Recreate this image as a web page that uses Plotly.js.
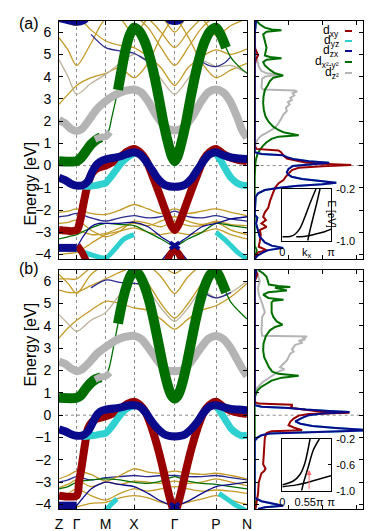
<!DOCTYPE html>
<html><head><meta charset="utf-8">
<script src="https://cdn.plot.ly/plotly-3.0.1.min.js"></script>
<style>body{margin:0;background:#fff}#chart{width:374px;height:531px}</style>
</head><body><div id="chart"></div>
<script>
// ---------- high-symmetry path ----------
const kTicks = [0, 17.7, 46.7, 75, 115.7, 157, 188];
const kLabels = ['Z','Γ','M','X','Γ','P','N'];
const kThin = [0, 9, 17.7, 32, 46.7, 61, 75, 89, 102, 115.7, 129, 143, 157, 172, 188];

// ---------- fat-band k grids ----------
const kGreen = [0,17.7,22,27,32,37,42,46.7,50,53,56,59,63,67,71,75,80,85,90,95,100,105,110,113,115.7,118.4,121.4,126.4,131.4,136.4,141.4,146.4,151.4,157,162,167,172,180,188];
const kRedA = [0,17.7,21,25,29,33,38,46.7,55,62,68,75,81,87,93,99,105,110,113,115.7,118.4,121.4,126.4,132.4,138.4,144.4,150.4,157,165,172,180,188];
const kRedB = [0,17.7,20,23,26,29,33,38,46.7,55,62,68,75,81,87,93,99,104,108,112,115.7,119.4,123.4,127.4,132.4,138.4,144.4,150.4,157,165,172,180,188];
const kBlue = [0,6,12,17.7,24,29,33,37,41,46.7,55,62,68,75,81,87,93,99,105,110,115.7,121.4,126.4,132.4,138.4,144.4,150.4,157,165,172,180,188];
const kGray = [0,6,12,17.7,23,30,38,46.7,55,62,68,75,82,89,96,103,109,115.7,122.4,128.4,135.4,142.4,149.4,157,164,171,178,183,188];
const kCyan1 = [24,30,36,41,46.7,52,57,62,68,75];
const kCyan2 = [157,162,167,172,178,183,188];
const kGrayM = [36,41,46.7,51];
const kBlueLow = [0,17.7];
const kBlueThin1 = [17.7,24,32,40,46.7,60,75,89,102,115.7,129];
const kBlueThin2 = [102,115.7,129,143,157,172,188];
const kBlueX = [111,115.7,120.4];

// ---------- panel (a) bands [eV] ----------
const aGreen = [0.2,0.2,0.35,0.65,0.95,1.15,1.27,1.3,1.6,2.2,2.8,3.4,4.4,5.3,5.9,6.2,6.05,5.65,5.0,4.1,3.0,1.8,0.85,0.4,0.2,0.4,0.85,1.8,3.0,4.1,5.0,5.65,6.05,6.2,5.85,5.3,4.85,4.45,4.15];
const aRed = [-2.9,-2.9,-2.5,-1.6,-0.8,-0.35,-0.12,0,0.2,0.4,0.62,0.75,0.6,0.25,-0.4,-1.1,-1.85,-2.45,-2.75,-2.9,-2.75,-2.45,-1.85,-1.1,-0.4,0.25,0.6,0.75,0.5,0.35,0.25,0.2];
const aBlue = [-0.55,-0.65,-0.82,-0.9,-0.88,-0.7,-0.3,0.0,0.17,0.28,0.35,0.42,0.52,0.6,0.5,0.2,-0.2,-0.6,-0.85,-0.93,-0.95,-0.93,-0.85,-0.6,-0.2,0.2,0.5,0.6,0.45,0.37,0.32,0.3];
const aCyan1 = [-0.92,-0.93,-0.9,-0.85,-0.78,-0.5,-0.2,0.1,0.35,0.55];
const aCyan2 = [0.55,0.2,-0.2,-0.55,-0.78,-0.88,-0.9];
const aGray = [2.05,1.9,1.65,1.55,1.65,2.05,2.55,2.9,3.15,3.3,3.38,3.42,3.3,2.9,2.35,1.9,1.65,1.58,1.65,1.9,2.35,2.9,3.3,3.42,3.3,2.9,2.2,1.6,1.25];
const aGrayM = [1.18,1.27,1.3,1.5];
const aBlueLow = [-3.7,-3.7];
const aBlueThin1 = [-3.7,-3.2,-2.75,-2.6,-2.6,-2.6,-2.55,-2.75,-3.2,-3.6,-4.3];
const aBlueThin2 = [-4.3,-3.6,-3.2,-2.75,-2.6,-2.4,-2.3];
const aBlueX1 = [-3.45,-3.6,-3.75];
const aBlueX2 = [-3.75,-3.6,-3.45];
const aRedLow1K = [18.5,23,27.5], aRedLow1 = [-3.6,-3.9,-4.3];
const aRedLow2K = [108,112,115.7,119.4,123.4], aRedLow2 = [-4.3,-3.95,-3.8,-3.95,-4.3];
const aCyanLow1K = [17.7,25,35,46.7,55,65,75], aCyanLow1 = [-3.75,-3.9,-4.05,-4.15,-3.8,-3.3,-3.1];
const aCyanLow2K = [157,165,172,180,188], aCyanLow2 = [-3.0,-3.3,-3.6,-3.95,-4.2];
const aTopK1 = [0,9,17.7,25,30], aTop1 = [6.6,6.5,6.42,6.5,6.7];
const aTopK2 = [106,111,115.7,120.4,125.4], aTop2 = [6.7,6.5,6.45,6.5,6.7];
const aNavyK1 = [32,46.7,61,75,87,97], aNavy1 = [5.9,5.3,5.15,5.05,4.75,4.7];
const aNavyK2 = [140,150,157,165,172], aNavy2 = [4.75,4.5,4.45,4.6,4.9];
// thin bands on kThin
const aU1 = [5.75,5.2,4.5,5.5,6.6,6.6,5.9,6.6,6.7,6.0,6.7,6.6,5.85,6.3,6.6];
const aU2 = [4.75,4.0,3.2,3.7,4.1,4.6,5.0,4.7,3.9,3.2,3.9,4.7,4.45,4.5,4.15];
const aU3 = [6.7,6.7,6.7,6.1,5.6,5.4,5.3,4.9,4.4,3.6,4.4,4.9,5.2,5.0,5.25];
const aU4 = [2.75,3.2,3.6,3.95,4.15,4.4,3.95,4.6,5.8,6.6,5.8,4.6,3.95,4.3,4.6];
const aU5 = [6.6,6.4,6.3,6.6,6.7,6.7,6.7,6.2,5.3,4.5,5.3,6.2,6.7,6.7,6.7];
const aU6 = [6.7,6.7,6.7,6.7,6.7,6.7,6.7,6.6,6.0,5.3,6.0,6.6,6.7,6.7,6.7];
const aL1 = [-2.1,-2.05,-1.95,-2.15,-2.2,-2.0,-1.75,-1.95,-2.15,-1.95,-2.15,-2.05,-1.95,-2.1,-2.25];
const aL2 = [-2.3,-2.25,-2.15,-2.35,-2.5,-2.35,-2.25,-2.35,-2.3,-2.05,-2.3,-2.35,-2.25,-2.4,-2.5];
const aL3 = [-2.6,-2.55,-2.45,-2.9,-3.2,-2.95,-2.5,-2.6,-2.75,-2.5,-2.7,-2.7,-2.5,-2.65,-2.7];
const aL4 = [-3.0,-2.95,-2.9,-3.1,-3.05,-2.8,-2.6,-2.7,-2.5,-2.3,-2.5,-2.65,-2.55,-2.9,-3.1];
const aL5 = [-4.0,-3.95,-3.9,-3.5,-3.1,-2.95,-2.8,-3.0,-3.1,-3.0,-3.1,-3.0,-2.85,-3.1,-3.3];
const aGreenLow = [-3.3,-3.2,-3.1,-2.8,-2.6,-2.65,-2.7,-3.0,-3.3,-3.6,-3.3,-3.0,-2.6,-2.7,-2.8];

// ---------- panel (b) bands [eV] ----------
const bGreen = [0.78,0.78,0.9,1.2,1.45,1.62,1.7,1.75,2.1,2.7,3.4,4.1,5.0,5.7,6.2,6.45,6.3,5.85,5.15,4.2,3.1,2.0,1.15,0.85,0.75,0.85,1.15,2.0,3.1,4.2,5.15,5.85,6.3,6.45,6.05,5.5,5.05,4.65,4.3];
const bRed = [-3.6,-3.6,-3.0,-2.2,-1.3,-0.6,-0.3,-0.15,-0.05,0.1,0.3,0.5,0.6,0.45,0.1,-0.6,-1.5,-2.4,-3.2,-3.9,-4.35,-3.9,-3.2,-2.4,-1.5,-0.6,0.1,0.45,0.6,0.35,0.2,0.1,0.05];
const bBlue = [-0.63,-0.72,-0.85,-0.92,-0.9,-0.72,-0.4,-0.05,0.15,0.25,0.3,0.35,0.42,0.45,0.38,0.1,-0.3,-0.62,-0.85,-0.93,-0.95,-0.93,-0.85,-0.62,-0.3,0.1,0.38,0.45,0.35,0.28,0.25,0.22];
const bCyan1 = [-0.95,-0.93,-0.9,-0.85,-0.8,-0.55,-0.25,0.05,0.3,0.42];
const bCyan2 = [0.42,0.1,-0.25,-0.6,-0.82,-0.92,-0.9];
const bGray = [2.4,2.3,2.1,1.97,2.05,2.35,2.75,3.05,3.3,3.45,3.52,3.55,3.42,3.05,2.6,2.2,2.0,1.97,2.0,2.2,2.6,3.05,3.42,3.55,3.42,3.05,2.5,2.1,1.75];
const bGrayM = [1.6,1.7,1.75,1.9];
const bBlueLow = [-4.05,-4.05];
const bBlueThin1 = [-4.05,-3.7,-3.3,-3.1,-3.0,-3.1,-3.2,-3.5,-3.85,-4.1,-4.4];
const bBlueThin2 = [-4.4,-4.1,-3.85,-3.5,-3.2,-3.1,-3.0];
const bBlueX1 = [-3.95,-4.1,-4.25];
const bBlueX2 = [-4.25,-4.1,-3.95];
const bCyanLow1K = [40,46.7,52,58], bCyanLow1 = [-4.4,-4.25,-4.0,-3.75];
const bCyanLow2K = [160,168,176,188], bCyanLow2 = [-3.5,-3.75,-4.0,-4.3];
const bNavyK1 = [32,46.7,61,75,89], bNavy1 = [5.7,6.05,5.95,5.9,5.85];
const bNavyK2 = [143,150,157,165,172], bNavy2 = [5.6,5.35,5.25,5.35,5.5];
const bU1 = [6.1,6.1,6.1,6.6,6.7,6.7,6.7,6.7,6.7,6.35,6.7,6.7,6.7,6.7,6.7];
const bU2 = [6.3,5.9,5.45,6.3,6.7,6.7,6.7,6.7,6.2,5.45,6.2,6.7,6.7,6.7,6.7];
const bU3 = [4.5,4.1,3.75,4.25,4.6,5.4,5.9,5.6,4.8,4.2,4.8,5.6,5.25,5.5,6.0];
const bU5 = [3.45,3.9,4.25,4.7,5.1,5.0,4.8,4.7,4.3,3.85,4.3,4.7,4.9,5.3,5.9];
const bU6 = [5.6,5.5,5.5,5.8,6.1,6.4,6.6,5.9,5.0,4.35,5.0,5.9,6.6,6.6,6.6];
const bL1 = [-2.85,-2.7,-2.5,-2.65,-2.95,-2.7,-2.4,-2.55,-2.6,-2.5,-2.6,-2.65,-2.6,-2.7,-2.85];
const bL2 = [-3.0,-2.9,-2.75,-2.9,-2.8,-2.75,-2.7,-2.75,-2.7,-2.7,-2.75,-2.75,-2.7,-2.8,-2.9];
const bL3 = [-3.25,-3.1,-2.9,-3.2,-3.0,-3.1,-2.95,-3.0,-3.05,-2.95,-3.05,-3.0,-2.85,-3.0,-3.15];
const bL4 = [-3.6,-3.5,-3.3,-3.6,-3.8,-3.5,-3.3,-3.4,-3.3,-3.2,-3.3,-3.4,-3.35,-3.4,-3.5];
const bL5 = [-4.3,-4.2,-4.1,-3.95,-3.9,-3.7,-3.6,-3.7,-3.9,-4.0,-3.9,-3.75,-3.6,-3.8,-4.0];
const bGreenLow = [-3.3,-3.2,-3.0,-2.9,-2.85,-2.9,-3.0,-3.05,-2.95,-2.75,-2.95,-3.05,-3.1,-3.2,-3.3];

// ---------- DOS (a) ----------
const aDosGreenE = [6.5,6.35,6.2,6.12,6.08,6.02,5.9,5.7,5.5,5.3,5.1,4.95,4.88,4.83,4.76,4.65,4.5,4.3,4.15,4.05,3.95,3.8,3.6,3.4,3.1,2.8,2.5,2.2,1.95,1.75,1.6,1.5,1.42,1.36,1.3,1.2,1.05,0.9,0.7,0.5,0.3,0.1,-0.5,-3.6,-3.8,-4.0,-4.2];
const aDosGreen = [0.06,0.15,0.3,0.5,0.79,0.35,0.25,0.28,0.3,0.35,0.32,0.3,0.45,0.79,0.35,0.25,0.3,0.45,0.6,0.84,0.55,0.45,0.38,0.3,0.26,0.25,0.27,0.32,0.42,0.55,0.7,0.85,1.1,1.3,0.7,0.5,0.35,0.25,0.15,0.08,0.04,0.02,0,0,0.06,0.02,0];
const aDosGrayE = [6.5,5.5,5.0,4.7,4.45,4.25,4.15,4.08,4.0,3.9,3.7,3.5,3.42,3.38,3.33,3.25,3.15,3.05,2.95,2.85,2.75,2.6,2.45,2.3,2.15,2.0,1.85,1.7,1.55,1.45,1.35,1.2,1.0,0.8];
const aDosGray = [0,0,0.04,0.08,0.12,0.2,0.35,0.7,0.3,0.22,0.2,0.2,0.25,1.18,1.25,1.12,1.17,1.05,1.1,0.98,1.03,0.92,0.95,0.85,0.8,0.75,0.68,0.6,0.45,0.32,0.2,0.1,0.03,0];
const aDosRedE = [6.5,5.3,5.1,4.95,4.8,4.5,0.9,0.75,0.68,0.6,0.45,0.32,0.22,0.14,0.08,0.03,-0.03,-0.1,-0.2,-0.35,-0.5,-0.65,-0.8,-1.0,-1.3,-1.6,-1.9,-2.1,-2.3,-2.45,-2.6,-2.75,-2.9,-3.1,-3.4,-3.65,-3.8,-3.9,-4.05,-4.2];
const aDosRed = [0,0,0.06,0.1,0.04,0,0,0.05,0.7,0.78,0.85,0.95,1.25,1.5,2.0,2.85,2.0,1.3,1.1,1.0,0.92,0.85,0.7,0.6,0.52,0.45,0.4,0.3,0.25,0.33,0.2,0.35,0.15,0.18,0.15,0.12,0.35,0.1,0.04,0];
const aDosBlueE = [6.5,6.2,5.9,0.6,0.52,0.46,0.38,0.28,0.2,0.13,0.06,-0.02,-0.15,-0.3,-0.4,-0.5,-0.6,-0.69,-0.77,-0.84,-0.92,-1.0,-1.1,-1.25,-1.4,-2.2,-2.35,-2.6,-2.9,-3.2,-3.45,-3.6,-3.7,-3.8,-3.9,-4.05,-4.2];
const aDosBlue = [0.04,0.02,0,0,0.2,0.84,0.95,1.18,1.6,2.2,1.6,1.13,1.0,0.95,0.99,1.09,1.4,1.92,2.41,2.0,1.2,0.74,0.3,0.1,0.03,0,0.08,0.04,0.1,0.15,0.3,0.5,0.84,0.4,0.25,0.08,0];

// ---------- DOS (b) ----------
const bDosGreenE = [6.5,6.35,6.2,6.0,5.85,5.78,5.74,5.7,5.64,5.58,5.5,5.4,5.25,5.17,5.12,5.05,4.8,4.6,4.4,4.2,4.05,3.95,3.8,3.55,3.2,2.9,2.6,2.35,2.15,1.95,1.85,1.76,1.68,1.55,1.4,1.25,1.1,0.95,0.8,0.5,-3.8,-4.0,-4.2];
const bDosGreen = [0.1,0.25,0.35,0.38,0.42,0.7,1.05,0.6,0.75,0.95,0.4,0.25,0.4,0.85,0.55,0.5,0.5,0.5,0.55,0.65,0.82,0.6,0.45,0.33,0.26,0.25,0.28,0.35,0.42,0.52,0.7,1.3,0.8,0.5,0.32,0.18,0.08,0.03,0,0,0,0.05,0];
const bDosGrayE = [6.5,6.25,6.0,5.7,5.4,5.1,4.8,4.6,4.4,4.1,3.8,3.56,3.52,3.47,3.4,3.33,3.25,3.15,3.05,2.95,2.85,2.75,2.6,2.45,2.3,2.15,2.05,1.95,1.8,1.65,1.5,1.35,1.2,1.0];
const bDosGray = [0.05,0.1,0.15,0.1,0.12,0.2,0.25,0.3,0.22,0.2,0.2,0.22,1.55,1.4,1.5,1.3,1.42,1.2,1.15,1.1,1.15,1.05,1.0,0.95,0.85,0.75,0.88,0.7,0.55,0.4,0.25,0.15,0.06,0];
const bDosRedE = [6.5,6.3,6.15,6.0,0.6,0.52,0.47,0.4,0.33,0.25,0.17,0.11,0.05,-0.02,-0.15,-0.3,-0.45,-0.55,-0.62,-0.67,-0.72,-0.8,-1.0,-1.4,-1.8,-2.2,-2.4,-2.5,-2.6,-3.0,-3.5,-4.0,-4.2];
const bDosRed = [0.02,0.08,0.04,0,0,0.1,1.1,1.1,1.05,1.4,1.9,2.8,1.6,1.3,1.15,1.05,1.0,1.15,1.3,1.4,0.5,0.35,0.3,0.28,0.25,0.25,0.32,0.28,0.2,0.12,0.1,0.05,0.02];
const bDosBlueE = [6.5,6.2,6.0,0.45,0.38,0.32,0.25,0.19,0.14,0.08,0.0,-0.12,-0.28,-0.38,-0.48,-0.57,-0.63,-0.67,-0.71,-0.76,-0.82,-0.9,-1.0,-1.15,-3.7,-3.85,-3.95,-4.05,-4.12,-4.2];
const bDosBlue = [0.04,0.02,0,0,0.2,1.0,1.5,2.2,2.8,2.0,1.6,1.4,1.2,1.35,1.7,2.4,3.0,3.4,2.8,1.6,0.45,0.2,0.08,0,0,0.2,0.5,0.84,0.3,0.1];

// ---------- insets ----------
const iaC1K = [0,0.5,0.82,1.14,1.46,1.79,2.17], iaC1E = [-0.94,-0.935,-0.9,-0.81,-0.63,-0.42,-0.2];
const iaC2K = [1.64,1.79,2.0,2.22,2.43], iaC2E = [-1.0,-0.835,-0.63,-0.42,-0.2];
const iaC3K = [0.9,1.5,2.1,2.6,Math.PI], iaC3E = [-0.94,-0.93,-0.9,-0.87,-0.82];
const ibC1K = [0,0.71,1.14,1.46,1.79], ibC1E = [-0.91,-0.85,-0.75,-0.57,-0.2];
const ibC2K = [1.25,1.36,1.68,2.0,2.39], ibC2E = [-1.0,-0.886,-0.63,-0.37,-0.2];
const ibC3K = [0,0.92,1.79,Math.PI], ibC3E = [-0.94,-0.91,-0.86,-0.77];
const arrowK = 0.55*Math.PI, arrowFrom = -1.0, arrowTo = -0.68;

// ---------- styles ----------
const C = {xy:'#990000', yz:'#2ED0D0', zx:'#0A0A8C', x2:'#006F00', z2:'#B4B4B4', gold:'#C39A26', tan:'#BDB29A', navy:'#2A2A90'};
const FONT = 'Liberation Sans, Arial, Helvetica, sans-serif';
const W = 374, H = 531;
const px = x => x / W, py = y => 1 - y / H;

const traces = [];
function add(xa, ya, k, e, color, width, shape) {
  traces.push({type:'scatter', mode:'lines', x:k, y:e, xaxis:xa, yaxis:ya,
    line:{color:color, width:width, shape:shape||'spline', smoothing:0.8},
    hoverinfo:'skip', showlegend:false, connectgaps:false, cliponaxis:true});
}
function fatPart(k, e, thin) {
  return e.map((v,i) => thin.some(r => k[i] > r[0] && k[i] < r[1]) ? null : v);
}
const greenThin = [[44,57],[169,189]];

function bandPanel(xa, ya, d) {
  d.upper.forEach(([arr,col]) => add(xa, ya, kThin, arr, col, 1.3));
  d.lower.forEach(([arr,col]) => add(xa, ya, kThin, arr, col, 1.3));
  add(xa, ya, d.navyK1, d.navy1, C.navy, 1.3);
  add(xa, ya, d.navyK2, d.navy2, C.navy, 1.3);
  add(xa, ya, kBlueThin1, d.blueThin1, C.zx, 1.3);
  add(xa, ya, kBlueThin2, d.blueThin2, C.zx, 1.3);
  add(xa, ya, kGreen, d.green, C.x2, 1.3);
  add(xa, ya, kGray, d.gray, C.z2, 8);
  add(xa, ya, kGreen, fatPart(kGreen, d.green, greenThin), C.x2, 10);
  add(xa, ya, kGrayM, d.grayM, C.z2, 7);
  d.cyanLow.forEach(([k,e]) => add(xa, ya, k, e, C.yz, 5));
  d.redLow.forEach(([k,e]) => add(xa, ya, k, e, C.xy, 7));
  add(xa, ya, d.redK, d.red, C.xy, 8);
  add(xa, ya, kCyan1, d.cyan1, C.yz, 7);
  add(xa, ya, kCyan2, d.cyan2, C.yz, 7);
  add(xa, ya, kBlueLow, d.blueLow, C.zx, 8, 'linear');
  add(xa, ya, kBlueX, d.blueX1, C.zx, 4, 'linear');
  add(xa, ya, kBlueX, d.blueX2, C.zx, 4, 'linear');
  add(xa, ya, kBlue, d.blue, C.zx, 8);
  (d.top||[]).forEach(([k,e]) => add(xa, ya, k, e, C.zx, 6));
}

bandPanel('x','y', {
  upper:[[aU4,C.gold],[aU2,C.tan],[aU3,C.gold],[aU5,C.gold],[aU6,C.gold],[aU1,C.gold]],
  lower:[[aL5,C.gold],[aL4,C.gold],[aL3,C.gold],[aL2,C.navy],[aL1,C.gold],[aGreenLow,C.x2]],
  navyK1:aNavyK1, navy1:aNavy1, navyK2:aNavyK2, navy2:aNavy2,
  blueThin1:aBlueThin1, blueThin2:aBlueThin2, green:aGreen, gray:aGray, grayM:aGrayM,
  cyanLow:[[aCyanLow1K,aCyanLow1],[aCyanLow2K,aCyanLow2]],
  redLow:[[aRedLow1K,aRedLow1],[aRedLow2K,aRedLow2]],
  redK:kRedA, red:aRed, cyan1:aCyan1, cyan2:aCyan2, blueLow:aBlueLow,
  blueX1:aBlueX1, blueX2:aBlueX2, blue:aBlue,
  top:[[aTopK1,aTop1],[aTopK2,aTop2]]
});
bandPanel('x3','y3', {
  upper:[[bU5,C.gold],[bU3,C.tan],[bU6,C.gold],[bU2,C.gold],[bU1,C.gold]],
  lower:[[bL5,C.gold],[bL4,C.gold],[bL3,C.gold],[bL2,C.navy],[bL1,C.gold],[bGreenLow,C.x2]],
  navyK1:bNavyK1, navy1:bNavy1, navyK2:bNavyK2, navy2:bNavy2,
  blueThin1:bBlueThin1, blueThin2:bBlueThin2, green:bGreen, gray:bGray, grayM:bGrayM,
  cyanLow:[[bCyanLow1K,bCyanLow1],[bCyanLow2K,bCyanLow2]],
  redLow:[],
  redK:kRedB, red:bRed, cyan1:bCyan1, cyan2:bCyan2, blueLow:bBlueLow,
  blueX1:bBlueX1, blueX2:bBlueX2, blue:bBlue
});

function dosPanel(xa, ya, d) {
  const L = (x,y,c) => traces.push({type:'scatter', mode:'lines', x:x, y:y, xaxis:xa, yaxis:ya,
      line:{color:c, width:2}, hoverinfo:'skip', showlegend:false});
  L(d.gray, d.grayE, C.z2);
  L(d.green, d.greenE, C.x2);
  L(d.blue, d.blueE, C.yz);
  L(d.red, d.redE, C.xy);
  L(d.blue, d.blueE, C.zx);
}
dosPanel('x2','y2', {gray:aDosGray, grayE:aDosGrayE, green:aDosGreen, greenE:aDosGreenE, red:aDosRed, redE:aDosRedE, blue:aDosBlue, blueE:aDosBlueE});
dosPanel('x4','y4', {gray:bDosGray, grayE:bDosGrayE, green:bDosGreen, greenE:bDosGreenE, red:bDosRed, redE:bDosRedE, blue:bDosBlue, blueE:bDosBlueE});

[[iaC1K,iaC1E],[iaC2K,iaC2E],[iaC3K,iaC3E]].forEach(([k,e]) => add('x5','y5',k,e,'#000',1.5));
[[ibC1K,ibC1E],[ibC2K,ibC2E],[ibC3K,ibC3E]].forEach(([k,e]) => add('x6','y6',k,e,'#000',1.5));

// ---------- layout ----------
const AX = {showline:true, linecolor:'#000', linewidth:1, mirror:'ticks', ticks:'inside', ticklen:4,
  tickcolor:'#000', zeroline:false, showgrid:false, fixedrange:true, tickfont:{size:14, color:'#000'}};
const yA = [py(259), py(21)], yB = [py(509), py(270)];
const xBand = [px(59), px(247)], xDos = [px(254.7), px(363)];
const ERange = [-4.2, 6.5];
function bandX(anchor, labels) {
  return Object.assign({}, AX, {domain:xBand, range:[0,188], tickvals:kTicks, ticktext:kLabels,
    showticklabels:labels, showgrid:true, gridcolor:'#8c8c8c', griddash:'dot', gridwidth:1, anchor:anchor, ticklabelstandoff:2});
}
function bandY(dom, anchor) {
  return Object.assign({}, AX, {domain:dom, range:ERange, tick0:0, dtick:1, anchor:anchor, ticklabelstandoff:4});
}
function dosX(anchor) { return Object.assign({}, AX, {domain:xDos, range:[0,3.2], tickvals:[1,2,3], showticklabels:false, anchor:anchor}); }
function dosY(dom, anchor) { return Object.assign({}, AX, {domain:dom, range:ERange, tick0:0, dtick:1, showticklabels:false, anchor:anchor}); }
function insX(dom, anchor, vals, txt) {
  return {domain:dom, range:[0,Math.PI], tickvals:vals, ticktext:txt, ticks:'', showline:true, mirror:true,
    linecolor:'#000', zeroline:false, showgrid:false, fixedrange:true, anchor:anchor, tickfont:{size:11, color:'#000'}, ticklabelstandoff:1};
}
function insY(dom, anchor, vals, txt) {
  return {domain:dom, range:[-1.0,-0.2], side:'right', tickvals:vals, ticktext:txt, ticks:'inside', ticklen:3,
    tickcolor:'#000', showline:true, mirror:true, linecolor:'#000', zeroline:false, showgrid:false, fixedrange:true,
    anchor:anchor, tickfont:{size:11, color:'#000'}, ticklabelstandoff:2};
}
const insXDom = [px(282.3), px(331)];

const annotations = [
  {text:'(a)', x:px(17), y:py(13), xref:'paper', yref:'paper', showarrow:false, font:{size:16}},
  {text:'(b)', x:px(17), y:py(268), xref:'paper', yref:'paper', showarrow:false, font:{size:16}},
  {text:'Energy [eV]', x:px(19), y:py(140), xref:'paper', yref:'paper', showarrow:false, textangle:-90, font:{size:16}},
  {text:'Energy [eV]', x:px(19), y:py(389), xref:'paper', yref:'paper', showarrow:false, textangle:-90, font:{size:16}},
  {text:'E [eV]', x:px(339), y:py(214), xref:'paper', yref:'paper', showarrow:false, textangle:90, font:{size:10}},
  {text:'', x:arrowK, y:arrowTo, ax:arrowK, ay:arrowFrom, xref:'x6', yref:'y6', axref:'x6', ayref:'y6',
   showarrow:true, arrowhead:2, arrowsize:1, arrowwidth:1, arrowcolor:'#ff6a6a'}
];
const legendItems = [
  ['d<sub>xy</sub>', C.xy, 31], ['d<sub>yz</sub>', C.yz, 41], ['d<sub>zx</sub>', C.zx, 51],
  ['d<sub>x²-y²</sub>', C.x2, 62], ['d<sub>z²</sub>', C.z2, 73]
];
const shapes = [];
legendItems.forEach(([t,c,y]) => {
  annotations.push({text:t, x:px(341), y:py(y), xref:'paper', yref:'paper', xanchor:'right', yanchor:'middle', showarrow:false, font:{size:12}});
  shapes.push({type:'line', xref:'paper', yref:'paper', x0:px(345), x1:px(352), y0:py(y), y1:py(y), line:{color:c, width:2}});
});
[['x','y'],['x2','y2'],['x3','y3'],['x4','y4']].forEach(([xa,ya]) => {
  shapes.push({type:'line', xref:xa+' domain', yref:ya, x0:0, x1:1, y0:0, y1:0, line:{color:'#8c8c8c', width:1, dash:'dot'}, layer:'below'});
});

const layout = {
  width:W, height:H, margin:{l:0,r:0,t:0,b:0}, paper_bgcolor:'#fff', plot_bgcolor:'rgba(0,0,0,0)',
  font:{family:FONT, color:'#000', size:14}, showlegend:false,
  xaxis:bandX('y', false), yaxis:bandY(yA, 'x'),
  xaxis2:dosX('y2'), yaxis2:dosY(yA, 'x2'),
  xaxis3:bandX('y3', true), yaxis3:bandY(yB, 'x3'),
  xaxis4:dosX('y4'), yaxis4:dosY(yB, 'x4'),
  xaxis5:insX(insXDom, 'y5', [0,Math.PI/2,Math.PI], ['0','k<sub>x</sub>','π']),
  yaxis5:insY([py(240.7), py(189)], 'x5', [-0.2,-0.6,-1.0], ['-0.2',' ','-1.0']),
  xaxis6:insX(insXDom, 'y6', [0,arrowK,Math.PI], ['0','0.55π','π']),
  yaxis6:insY([py(490.7), py(439)], 'x6', [-0.2,-0.6,-1.0], ['-0.2','-0.6','-1.0']),
  annotations:annotations, shapes:shapes
};
Plotly.newPlot('chart', traces, layout, {staticPlot:true, displayModeBar:false});
</script></body></html>
